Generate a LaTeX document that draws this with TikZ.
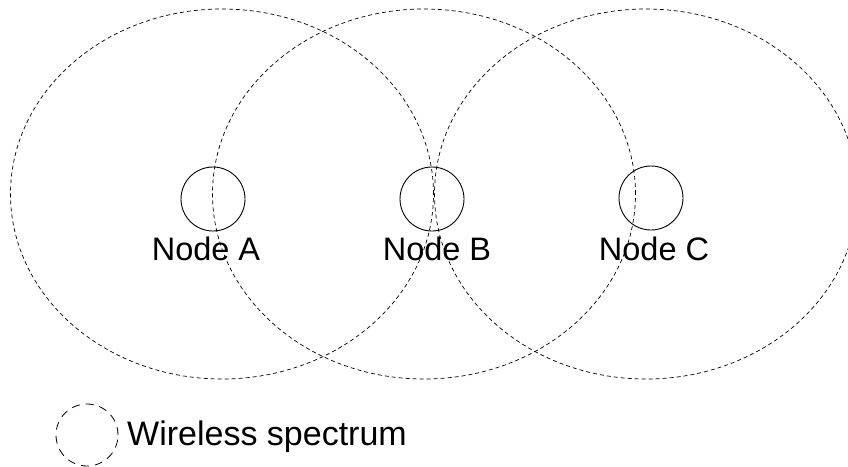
\documentclass[tikz,border=0pt]{standalone}
\usepackage{fontspec}
\setmainfont{Liberation Sans}
\usetikzlibrary{shapes.geometric,positioning}
\tikzset{%
  spectrum/.style  = {shape=ellipse, draw, inner sep=0pt,%
                      line width=0.7pt, dash pattern=on 4pt off 3pt,%
                      minimum width=423pt, minimum height=370pt},%
  station/.style   = {circle, draw, inner sep=0pt,%
                      line width=0.9pt, minimum size=64pt},%
  keymark/.style   = {circle, draw, inner sep=0pt,%
                      line width=0.8pt, dash pattern=on 8pt off 6pt,%
                      minimum size=62pt},%
  nodetext/.style  = {font=\fontsize{32.5}{38}\selectfont, inner sep=0pt, anchor=base}%
}
\begin{document}
\begin{tikzpicture}[x=1pt,y=-1pt]
	\useasboundingbox (0,0) rectangle (848,466);
	% radio coverage of each station
	\node[spectrum] (rangeA) at (222,194) {};
	\node[spectrum] (rangeB) at (424,194) {};
	\node[spectrum] (rangeC) at (646,194) {};
	% the stations themselves
	\node[station] (A) at (213,199) {};
	\node[station] (B) at (432,199) {};
	\node[station] (C) at (651,198) {};
	\node[nodetext] (nameA) at (206,260) {Node A};
	\node[nodetext] (nameB) at (437,260) {Node B};
	\node[nodetext] (nameC) at (654,260) {Node C};
	% legend
	\node[keymark] (key) at (87,435) {};
	\node[nodetext, anchor=base west, font=\fontsize{34}{40}\selectfont]
		(keytext) at (127,445) {Wireless spectrum};
\end{tikzpicture}
\end{document}
